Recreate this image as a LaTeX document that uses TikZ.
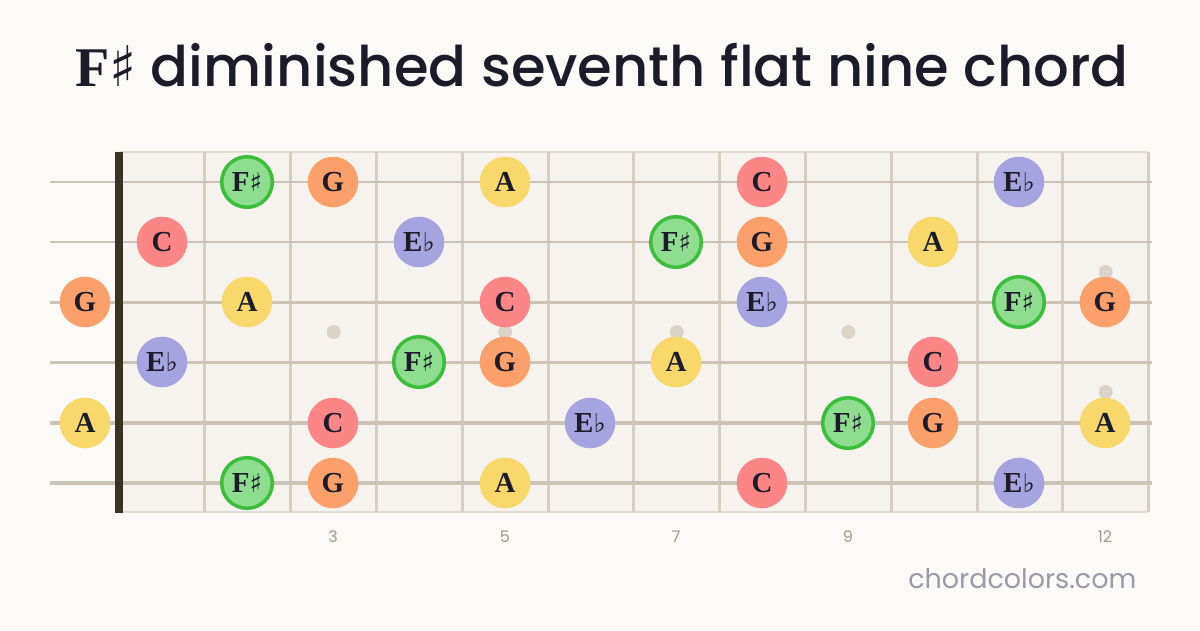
\documentclass[tikz,border=0pt]{standalone}
\usepackage{fontspec}
\setmainfont{Liberation Serif}
\newfontfamily\titlefont{Poppins}[UprightFont={* Medium}]
\newfontfamily\sitefont{Poppins}
\newfontfamily\symfont{DejaVu Serif}
\usetikzlibrary{positioning}

\definecolor{pagebg}{HTML}{FBFAF7}
\definecolor{boardbg}{HTML}{F6F3EE}
\definecolor{fretgray}{HTML}{D5CEC2}
\definecolor{stringgray}{HTML}{CBC3B6}
\definecolor{nutdark}{HTML}{3A3323}
\definecolor{inkdark}{HTML}{1C1B29}
\definecolor{dotgray}{HTML}{D9D4C7}
\definecolor{numgray}{HTML}{A09A88}
\definecolor{sitegray}{HTML}{9A9AA8}
\definecolor{ngreen}{HTML}{8FDD8F}
\definecolor{ngreenline}{HTML}{3CBD3C}
\definecolor{norange}{HTML}{FCA06B}
\definecolor{nyellow}{HTML}{F8D86A}
\definecolor{nred}{HTML}{FC8585}
\definecolor{npurple}{HTML}{A6A4E0}

\newcommand\notelabel{\fontsize{29}{29}\selectfont\bfseries}
\newcommand\shp{{\symfont\mdseries\fontsize{26}{26}\selectfont ♯}}
\newcommand\flt{{\symfont\mdseries\fontsize{26}{26}\selectfont ♭}}

\tikzset{
  note/.style={circle, minimum size=50.6pt, inner sep=0pt, text=inkdark, font=\notelabel},
  fsharp/.style={note, fill=ngreen, draw=ngreenline, line width=3.5pt},
  gnote/.style={note, fill=norange},
  anote/.style={note, fill=nyellow},
  cnote/.style={note, fill=nred},
  ebnote/.style={note, fill=npurple},
  fretnum/.style={text=numgray, font=\sitefont\fontsize{16}{16}\selectfont},
  inlay/.style={fill=dotgray}
}

\begin{document}
\begin{tikzpicture}[x=1pt, y=-1pt]
  \useasboundingbox (0,0) rectangle (1200,630);
  \fill[pagebg] (0,0) rectangle (1200,630);

  % Title
  \node[text=inkdark, font=\titlefont\fontsize{56}{56}\selectfont, anchor=base] (title) at (602,86)
    {{\rmfamily\bfseries F\symfont\mdseries ♯} diminished seventh flat nine chord};

  % Fretboard
  \fill[boardbg] (119,152) rectangle (1148,512);
  \draw[fretgray!70, line width=1.5pt] (119,152) -- (1148,152);
  \draw[fretgray!70, line width=1.5pt] (119,512) -- (1148,512);
  \foreach \f in {1,...,12}
    \draw[fretgray, line width=3pt] ({119+85.8*\f},152) -- ({119+85.8*\f},512);

  % Inlays
  \foreach \f in {3,5,7,9}
    \fill[inlay] ({119+85.8*(\f-0.5)},332) circle (7);
  \fill[inlay] ({119+85.8*11.5},272) circle (7);
  \fill[inlay] ({119+85.8*11.5},392) circle (7);

  % Strings
  \foreach \s/\w in {1/2, 2/2.4, 3/2.8, 4/3.2, 5/3.6, 6/4.1}
    \draw[stringgray, line width=\w pt] (50,{182+60.25*(\s-1)}) -- (1152,{182+60.25*(\s-1)});

  % Nut
  \fill[nutdark] (115.3,152) rectangle (122.7,513);

  % String 1
  \node[fsharp] (e1f2) at (247,182) {F\shp};
  \node[gnote] (e1f3) at (333,182) {G};
  \node[anote] (e1f5) at (505,182) {A};
  \node[cnote] (e1f8) at (762,182) {C};
  \node[ebnote] (e1f11) at (1019,182) {E\flt};

  % String 2
  \node[cnote] (b2f1) at (162,242) {C};
  \node[ebnote] (b2f4) at (419,242) {E\flt};
  \node[fsharp] (b2f7) at (676,242) {F\shp};
  \node[gnote] (b2f8) at (762,242) {G};
  \node[anote] (b2f10) at (933,242) {A};

  % String 3
  \node[gnote] (g3f0) at (85,302) {G};
  \node[anote] (g3f2) at (247,302) {A};
  \node[cnote] (g3f5) at (505,302) {C};
  \node[ebnote] (g3f8) at (762,302) {E\flt};
  \node[fsharp] (g3f11) at (1019,302) {F\shp};
  \node[gnote] (g3f12) at (1105,302) {G};

  % String 4
  \node[ebnote] (d4f1) at (162,362) {E\flt};
  \node[fsharp] (d4f4) at (419,362) {F\shp};
  \node[gnote] (d4f5) at (505,362) {G};
  \node[anote] (d4f7) at (676,362) {A};
  \node[cnote] (d4f10) at (933,362) {C};

  % String 5
  \node[anote] (a5f0) at (85,423) {A};
  \node[cnote] (a5f3) at (333,423) {C};
  \node[ebnote] (a5f6) at (590,423) {E\flt};
  \node[fsharp] (a5f9) at (848,423) {F\shp};
  \node[gnote] (a5f10) at (933,423) {G};
  \node[anote] (a5f12) at (1105,423) {A};

  % String 6
  \node[fsharp] (e6f2) at (247,483) {F\shp};
  \node[gnote] (e6f3) at (333,483) {G};
  \node[anote] (e6f5) at (505,483) {A};
  \node[cnote] (e6f8) at (762,483) {C};
  \node[ebnote] (e6f11) at (1019,483) {E\flt};

  % Fret numbers
  \node[fretnum] (n3) at (333,537) {3};
  \node[fretnum] (n5) at (505,537) {5};
  \node[fretnum] (n7) at (676,537) {7};
  \node[fretnum] (n9) at (848,537) {9};
  \node[fretnum] (n12) at (1105,537) {12};

  % Site
  \node[text=sitegray, font=\sitefont\fontsize{27}{27}\selectfont, anchor=base east] (site) at (1140,588) {chordcolors.com};
\end{tikzpicture}
\end{document}
